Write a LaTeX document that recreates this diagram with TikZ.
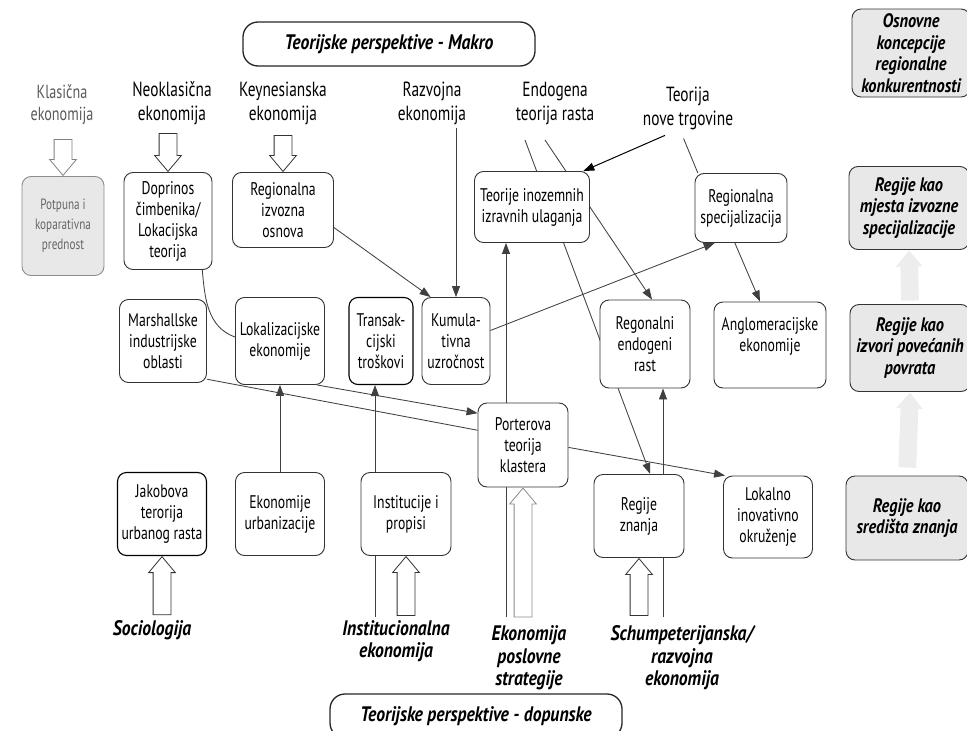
\documentclass[tikz,border=0pt]{standalone}
\usepackage{fontspec}
\setmainfont{PT Sans}[UprightFeatures={FakeStretch=0.75}, BoldItalicFeatures={FakeStretch=0.84}]
\usetikzlibrary{positioning, arrows.meta, shapes.arrows, backgrounds}
\newcommand\bxfont{\fontsize{18.3}{21}\selectfont}
\newcommand\srcfont{\fontsize{20.5}{24}\selectfont}
\newcommand\isrcfont{\fontsize{21}{22.5}\selectfont\bfseries\itshape}
\newcommand\gfont{\fontsize{19.5}{21.5}\selectfont\bfseries\itshape}
\newcommand\ttlfont{\fontsize{21}{22}\selectfont\bfseries\itshape}
\newcommand\palefont{\fontsize{14.9}{20}\selectfont}
\tikzset{
  node distance=1cm and 1.5cm,
  box/.style={
      rectangle,
      rounded corners=9pt,
      draw=black!80,
      line width=0.9pt,
      fill=white,
      align=center,
      inner sep=2pt,
      font=\bxfont
    },
  dbox/.style={
      box,
      draw=black,
      line width=1.1pt
    },
  gbox/.style={
      box,
      fill=black!9,
      font=\gfont
    },
  pale/.style={
      box,
      fill=black!9,
      draw=black!45,
      text=black!60,
      font=\palefont
    },
  ttl/.style={
      rectangle,
      rounded corners=15pt,
      draw=black!85,
      line width=1.3pt,
      fill=white,
      minimum width=292pt,
      minimum height=44pt,
      font=\ttlfont
    },
  src/.style={
      align=center,
      font=\srcfont
    },
  isrc/.style={
      align=center,
      font=\isrcfont
    },
  arr/.style={
      -{Triangle[length=11pt,width=8pt]},
      line width=0.85pt,
      draw=black!75
    },
  ln/.style={
      line width=0.85pt,
      draw=black!75
    },
  blk/.style={
      single arrow,
      draw=black!80,
      fill=white,
      line width=0.8pt,
      minimum width=26pt,
      single arrow head extend=4.5pt,
      single arrow tip angle=80,
      inner xsep=0pt,
      inner ysep=8.5pt,
      pos=1,
      anchor=tip,
      sloped,
      allow upside down
    }
}
\begin{document}
\begin{tikzpicture}[x=1pt, y=-1pt]
  \useasboundingbox (0,0) rectangle (967,731);
  \node[ttl] (makro) at (389,44) {Teorijske perspektive - Makro};
  \node[gbox, minimum width=118pt, minimum height=88pt] (osn) at (911,53) {Osnovne\\koncepcije\\regionalne\\konkurentnosti};
  \node[src, text=black!65, font=\fontsize{18.9}{22}\selectfont] (klas) at (62,105) {Klasična\\ekonomija};
  \node[src] (neo) at (172,103) {Neoklasična\\ekonomija}; \node[src] (keyn) at (283,103) {Keynesianska\\ekonomija};
  \node[src] (razv) at (432,103) {Razvojna\\ekonomija}; \node[src] (endo) at (555,103) {Endogena\\teorija rasta};
  \node[src] (nova) at (688,108) {Teorija\\nove trgovine};

  \node[pale, minimum width=82pt, minimum height=99pt] (potp) at (63,226) {Potpuna i\\koparativna\\prednost};
  \node[box, minimum width=88pt, minimum height=97pt] (dopr) at (168,221) {Doprinos\\čimbenika/\\Lokacijska\\teorija};
  \node[box, minimum width=101pt, minimum height=75pt] (izv) at (283,210) {Regionalna\\izvozna\\osnova};
  \node[box, minimum width=115pt, minimum height=71pt] (fdi) at (532,207) {Teorije inozemnih\\izravnih ulaganja};
  \node[box, minimum width=92pt, minimum height=69pt] (spec) at (741,208) {Regionalna\\specijalizacija};
  \node[gbox, minimum width=120pt, minimum height=83pt] (mjes) at (909,208) {Regije kao\\mjesta izvozne\\specijalizacije};

  \node[box, minimum width=87pt, minimum height=83pt] (marsh) at (163,341) {Marshallske\\industrijske\\oblasti};
  \node[box, minimum width=89pt, minimum height=87pt] (lok) at (280,341) {Lokalizacijske\\ekonomije};
  \node[dbox, minimum width=64pt, minimum height=87pt] (trans) at (381,341) {Transak-\\cijski\\troškovi};
  \node[box, minimum width=68pt, minimum height=87pt] (kum) at (456,341) {Kumula-\\tivna\\uzročnost};
  \node[box, minimum width=90pt, minimum height=88pt] (ren) at (645,344) {Regonalni\\endogeni\\rast};
  \node[box, minimum width=112pt, minimum height=86pt] (aglo) at (770,345) {Anglomeracijske\\ekonomije\\~};
  \node[gbox, minimum width=120pt, minimum height=87pt] (povr) at (910,348) {Regije kao\\izvori povećanih\\povrata};
  \node[box, minimum width=90pt, minimum height=84pt] (porter) at (523,445) {Porterova\\teorija\\klastera};

  \node[dbox, minimum width=89pt, minimum height=83pt] (jak) at (162,514) {Jakobova\\terorija\\urbanog rasta};
  \node[box, minimum width=89pt, minimum height=83pt] (urb) at (280,514) {Ekonomije\\urbanizacije};
  \node[box, minimum width=90pt, minimum height=83pt] (inst) at (406,514) {Institucije i\\propisi};
  \node[box, minimum width=90pt, minimum height=83pt] (znan) at (639,516) {Regije\\znanja};
  \node[box, minimum width=89pt, minimum height=82pt] (lokino) at (768,517) {Lokalno\\inovativno\\okruženje};
  \node[gbox, minimum width=122pt, minimum height=84pt] (sred) at (907,518) {Regije kao\\središta znanja};

  \node[isrc] (soc) at (152,630) {Sociologija}; \node[isrc] (instec) at (396,641) {Institucionalna\\ekonomija};
  \node[isrc] (eps) at (529,658) {Ekonomija\\poslovne\\strategije}; \node[isrc] (schum) at (682,658) {Schumpeterijanska/\\razvojna\\ekonomija};
  \node[ttl] (dop) at (476,716) {Teorijske perspektive - dopunske};

  \coordinate (e1) at (525,140); \coordinate (e2) at (545,140);
  \coordinate (q1) at (375,617); \coordinate (q2) at (506,617); \coordinate (q3) at (663,617);

  \begin{scope}[on background layer]
    \draw[arr] (kum.north |- razv.south) -- (kum.north);
    \draw[arr] (izv.-19) -- (kum.120);
    \draw[arr] (kum.17) -- (spec.-127);
    \draw[arr] (spec.-100) -- (aglo.103);
    \draw[ln, shorten <=6pt] (nova.-105) -- (spec.141);
    \draw[arr, draw=black, line width=1pt, shorten <=6pt] (nova.-125) -- (fdi.35);
    \draw[arr] (e1) -- (znan.75);
    \draw[arr] (e2) -- (ren.81);
    \draw[ln] (dopr.-55) to[out=-85, in=160] (lok.175);
    \draw[ln] (marsh.-41) -- (porter.162);
    \draw[arr] (lok.-50) -- (porter.145);
    \draw[arr] (urb.north) -- (lok.south);
    \draw[arr] (q1) -- (q1 |- trans.south);
    \draw[arr] (q2) -- (q2 |- fdi.south);
    \draw[arr] (q3) -- (q3 |- ren.south);
    \draw[arr] (porter.-3) -- (lokino.136);
  \end{scope}

  \path (klas.south -| potp.north) -- (potp.north) node[blk, draw=black!50, minimum height=36pt] {};
  \path (neo.south -| dopr.north) -- (dopr.north) node[blk, minimum height=38pt] {};
  \path (keyn.south -| izv.north) -- (izv.north) node[blk, minimum height=36pt] {};
  \path (soc.north -| jak.south) -- (jak.south) node[blk, minimum height=58pt] {};
  \path (instec.north -| inst.south) -- (inst.south) node[blk, minimum height=59pt] {};
  \path (eps.north -| porter.south) -- (porter.south) node[blk, draw=black!45, minimum height=129pt] {};
  \path (schum.north -| znan.south) -- (znan.south) node[blk, minimum height=57pt] {};
  \path (povr.north) -- (mjes.south) node[blk, draw=none, fill=black!7, minimum height=50pt] {};
  \path (sred.north) -- (povr.south) node[blk, draw=none, fill=black!7, minimum height=75pt] {};
\end{tikzpicture}
\end{document}
